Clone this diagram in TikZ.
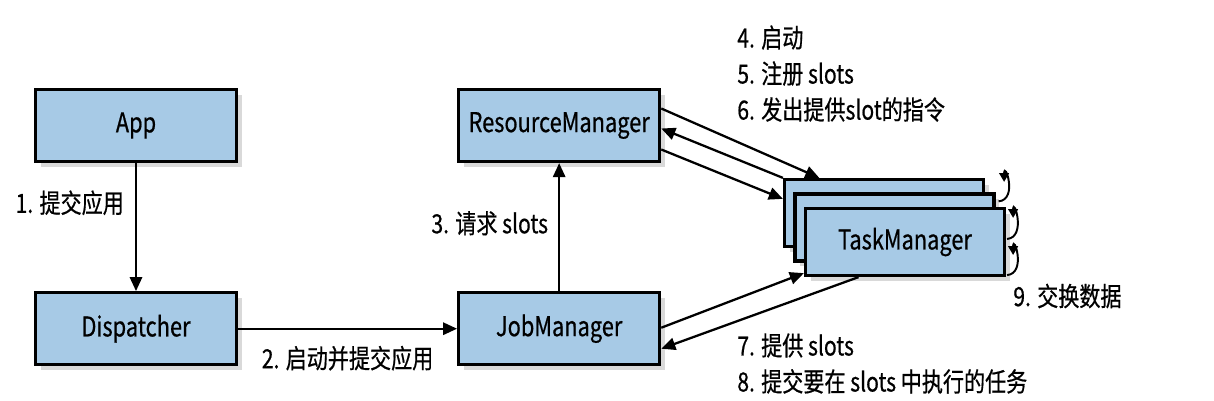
\documentclass[tikz,border=0pt]{standalone}
\usepackage{fontspec}
\setmainfont{Noto Sans CJK SC}[FakeStretch=0.8,FakeBold=0.6]
\usetikzlibrary{arrows.meta,positioning,calc,shadows}
\definecolor{boxblue}{HTML}{A7CAE6}
\tikzset{
  box/.style={draw=black,line width=0.065cm,fill=boxblue,minimum width=4.02cm,minimum height=1.44cm,font=\fontsize{15.5}{18}\selectfont,drop shadow={opacity=0.3,shadow xshift=3pt,shadow yshift=-3pt}},
  tbox/.style={box,minimum width=3.98cm,minimum height=1.34cm},
  ar/.style={-{Triangle[length=8pt,width=7pt]},line width=1.3pt},
  xch/.style={-{Triangle[length=5pt,width=5.5pt]},line width=1.1pt},
  lbl/.style={font=\fontsize{15}{20.5}\selectfont,align=left,inner sep=0pt},
}
\begin{document}
\begin{tikzpicture}[x=0.02cm,y=-0.02cm]
\useasboundingbox (0,0) rectangle (1214,400);
\node[box] (app) at (136,125.5) {App};
\node[box,below=2.56cm of app] (disp) {Dispatcher};
\node[box,right=4.38cm of disp] (jm) {JobManager};
\node[box,above=2.56cm of jm] (rm) {ResourceManager};
\node[tbox] (tmb) at (884,213) {};
\node[tbox] (tmm) at (894.5,227.5) {};
\node[tbox] (tmf) at (905,242) {TaskManager};
\draw[ar] (app) -- node[lbl,pos=0.31,left=0.22cm] {1. 提交应用} (disp);
\draw[ar] (disp) -- node[lbl,below=0.32cm] {2. 启动并提交应用} (jm);
\draw[ar] (jm) -- node[lbl,pos=0.53,left=0.2cm] {3. 请求 slots} (rm);
\draw[ar] ($(rm.east)+(0,-17)$) -- ($(tmb.north west)!0.18!(tmb.north east)$);
\draw[ar] (tmb.north west) -- ($(rm.east)+(0,3)$);
\draw[ar] ($(rm.east)+(0,24)$) -- ($(tmb.north west)+(0,21)$);
\draw[ar] ($(jm.east)+(0,-1)$) -- ($(tmf.south west)+(0,-4)$);
\draw[ar] ($(tmf.south west)!0.27!(tmf.south east)$) -- ($(jm.east)+(0,20)$);
\draw[xch] ($(tmm.north east)+(3,9)$) .. controls +(20,-2) and +(0,-22) .. ($(tmb.north east)+(19,4)$);
\draw[xch] ($(tmf.east)+(1,-3)$) .. controls +(20,-2) and +(0,-22) .. ($(tmf.north east)+(7,11)$);
\draw[xch] ($(tmf.south east)+(1,-2)$) .. controls +(20,-2) and +(0,-22) .. ($(tmf.east)+(7,13)$);
\node[lbl,anchor=north west] (lrt) at (737,25) {4. 启动\\5. 注册 slots\\6. 发出提供slot的指令};
\node[lbl,anchor=north west] (lbt) at (737,333) {7. 提供 slots\\8. 提交要在 slots 中执行的任务};
\node[lbl,anchor=west] (lx) at (1013,296) {9. 交换数据};
\end{tikzpicture}
\end{document}
